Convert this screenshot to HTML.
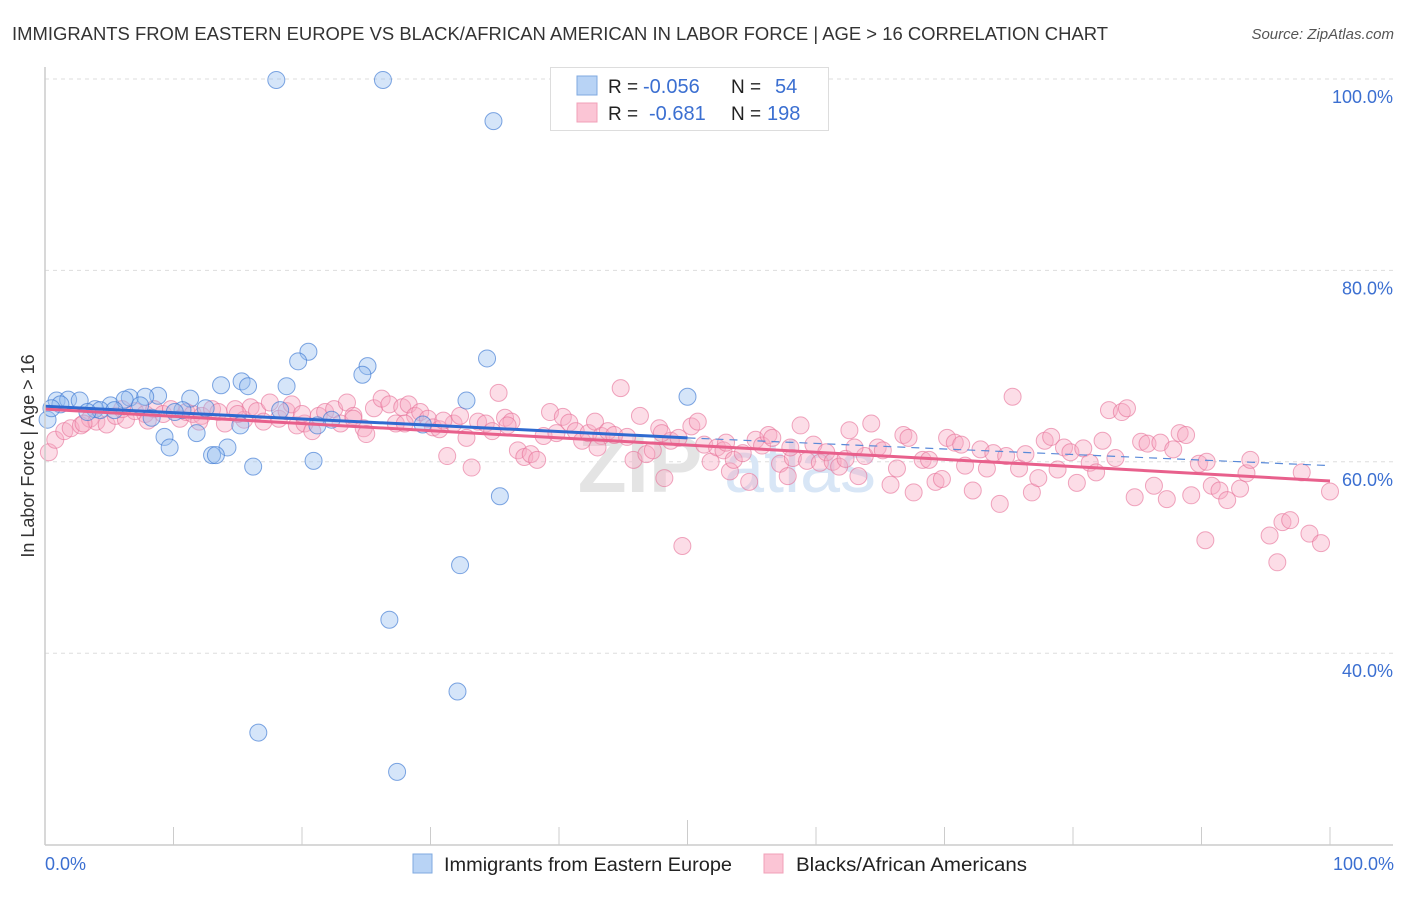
<!DOCTYPE html>
<html><head><meta charset="utf-8"><style>
body{margin:0;background:#fff;font-family:"Liberation Sans",sans-serif}
svg text{font-family:"Liberation Sans",sans-serif}
</style></head><body>
<svg width="1406" height="892" viewBox="0 0 1406 892" xmlns="http://www.w3.org/2000/svg">
<text x="12" y="40" font-size="18" fill="#333" textLength="1096" lengthAdjust="spacingAndGlyphs">IMMIGRANTS FROM EASTERN EUROPE VS BLACK/AFRICAN AMERICAN IN LABOR FORCE | AGE &gt; 16 CORRELATION CHART</text>
<text x="1394" y="39" font-size="15" fill="#555" font-style="italic" text-anchor="end">Source: ZipAtlas.com</text>
<g id="grid"></g>
<g><text x="640" y="492" font-size="80" fill="#e4e4e4" font-family="Liberation Serif" font-weight="bold" text-anchor="middle">ZIP</text><text x="800" y="492" font-size="72" fill="#d8e6f6" text-anchor="middle">atlas</text></g>
<g id="pink"></g>
<g id="blue"></g>
<g id="trends"></g>
<line x1="45" y1="67" x2="45" y2="845" stroke="#ccc" stroke-width="1.5"/>
<line x1="45" y1="845" x2="1393" y2="845" stroke="#ccc" stroke-width="1.5"/>
<g id="ticks"></g>
<g id="ylabels"></g>
<text transform="translate(34,456) rotate(-90)" font-size="18" fill="#333" text-anchor="middle">In Labor Force | Age &gt; 16</text>
<text x="45" y="870" font-size="18" fill="#3b6fd1">0.0%</text>
<text x="1394" y="870" font-size="18" fill="#3b6fd1" text-anchor="end">100.0%</text>
<g>
<rect x="550.5" y="67.5" width="278" height="63" fill="#fff" stroke="#ddd"/>
<rect x="577" y="76" width="20" height="19" fill="#b8d3f5" stroke="#7fa9e0"/>
<rect x="577" y="103" width="20" height="19" fill="#fbc5d5" stroke="#f2a0b8"/>
<text x="608" y="93" font-size="19" fill="#222">R =</text>
<text x="643" y="93" font-size="20" fill="#3b6fd1">-0.056</text>
<text x="731" y="93" font-size="19" fill="#222">N =</text>
<text x="775" y="93" font-size="20" fill="#3b6fd1">54</text>
<text x="608" y="120" font-size="19" fill="#222">R =</text>
<text x="649" y="120" font-size="20" fill="#3b6fd1">-0.681</text>
<text x="731" y="120" font-size="19" fill="#222">N =</text>
<text x="767" y="120" font-size="20" fill="#3b6fd1">198</text>
</g>
<g>
<rect x="413" y="854" width="19" height="19" fill="#b8d3f5" stroke="#7fa9e0"/>
<text x="444" y="871" font-size="19" fill="#222" textLength="288" lengthAdjust="spacingAndGlyphs">Immigrants from Eastern Europe</text>
<rect x="764" y="854" width="19" height="19" fill="#fbc5d5" stroke="#f2a0b8"/>
<text x="796" y="871" font-size="19" fill="#222" textLength="231" lengthAdjust="spacingAndGlyphs">Blacks/African Americans</text>
</g>
</svg>
<script>
const blueX=[18.0,26.3,34.9,20.5,19.7,34.4,25.1,24.7,13.7,15.3,15.8,18.8,8.8,50.0,32.8,0.9,1.8,2.7,1.2,6.6,7.8,5.1,6.2,3.9,11.3,12.5,18.3,10.7,8.3,22.3,21.2,29.4,9.3,11.8,9.7,14.2,13.0,13.3,20.9,16.2,35.4,32.3,26.8,32.1,16.6,27.4,0.2,0.5,4.3,7.4,5.4,10.1,3.3,15.2];
const blueY=[99.9,99.9,95.6,71.5,70.5,70.8,70.0,69.1,68.0,68.4,67.9,67.9,66.9,66.8,66.4,66.4,66.5,66.4,66.0,66.7,66.8,65.9,66.5,65.5,66.6,65.6,65.4,65.4,64.6,64.4,63.8,63.9,62.6,63.0,61.5,61.5,60.7,60.7,60.1,59.5,56.4,49.2,43.5,36.0,31.7,27.6,64.4,65.6,65.4,65.9,65.4,65.2,65.2,63.8];
const pinkX=[0.3,0.8,1.5,2,2.8,3.5,4,4.8,5.5,6.3,7,7.8,8.5,9.2,9.8,10.5,
11,11.5,12.2,13,13.5,14,14.8,15.5,16,16.5,17,17.5,18.2,18.8,19.2,19.6,20.2,20.8,
21.3,21.8,22.5,23,23.5,24,24.8,25,25.6,26.2,26.8,27.3,27.8,28.3,28.8,29.2,29.8,
30.2,30.7,31.3,31.8,32.3,32.8,33.2,33.7,34.3,34.8,35.3,35.8,36.3,36.8,37.3,37.8,38.3,38.8,39.3,39.8,
40.3,40.8,41.3,41.8,42.3,42.8,43.3,43.8,44.3,44.8,45.3,45.8,46.3,46.8,47.3,47.8,48.2,48.7,49.3,49.6,
50.3,50.8,51.3,51.8,52.3,52.8,53.3,53.6,54.3,54.8,55.3,55.8,56.3,56.6,57.2,57.8,58.2,58.8,59.3,59.8,
60.3,60.8,61.3,61.8,62.3,62.6,63.3,63.8,64.3,64.8,65.2,65.8,66.3,66.8,67.2,67.6,68.3,68.8,69.3,69.8,
70.2,70.8,71.3,71.6,72.2,72.8,73.3,73.8,74.3,74.8,75.3,75.8,76.3,76.8,77.3,77.8,78.3,78.8,79.3,79.8,
80.3,80.8,81.3,81.8,82.3,82.8,83.3,83.8,84.2,84.8,85.3,85.8,86.3,86.8,87.3,87.8,88.3,88.8,89.2,89.8,
90.3,90.4,90.8,91.4,92,93,93.5,93.8,95.3,95.9,96.3,96.9,97.8,98.4,99.3,100,
3,6,8,12,15,20,24,28,31,36,43,48,53,58,63];
const pinkY=[61.0,62.3,63.2,63.5,63.8,64.5,64.2,63.9,64.8,64.4,65.3,65.0,65.5,65.0,65.5,64.5,
65.2,65.0,64.8,65.5,65.2,64.0,65.5,64.4,65.7,65.3,64.2,66.2,64.5,65.3,66.0,63.8,64.0,63.2,
64.8,65.2,65.5,64.0,66.2,64.8,63.5,62.9,65.6,66.6,66.0,64.0,65.7,66.0,64.8,65.2,64.5,
63.6,63.4,60.6,64.0,64.8,62.5,59.4,64.2,64.0,63.2,67.2,64.6,64.2,61.2,60.5,60.8,60.2,62.7,65.2,63.0,
64.7,64.1,63.2,62.2,63.0,64.2,62.7,63.2,62.8,67.7,62.6,60.2,64.8,60.8,61.2,63.5,58.3,62.2,62.5,51.2,
63.7,64.2,61.8,60.0,61.5,61.2,59.0,60.2,60.9,57.9,62.3,61.7,62.8,62.5,59.8,58.5,60.4,63.8,60.1,61.8,
59.9,61.0,60.0,59.5,60.3,63.3,58.5,60.6,64.0,61.5,61.2,57.6,59.3,62.8,62.5,56.8,60.2,60.2,57.9,58.2,
62.5,62.0,61.8,59.6,57.0,61.3,59.3,60.9,55.6,60.6,66.8,59.3,60.8,56.8,58.3,62.2,62.6,59.2,61.5,61.0,
57.8,61.4,59.9,58.9,62.2,65.4,60.4,65.2,65.6,56.3,62.1,61.9,57.5,62.0,56.1,61.3,63.0,62.8,56.5,59.8,
51.8,60.0,57.5,57.0,56.0,57.2,58.8,60.2,52.3,49.5,53.7,53.9,58.9,52.5,51.5,56.9,
64.0,65.5,64.3,64.2,65.0,65.0,64.5,64.0,64.3,63.8,61.5,63.0,62.0,61.5,61.5];
const yTicks=[100,80,60,40];
const yTickLabels=["100.0%","80.0%","60.0%","40.0%"];
const xTicks=[0,10,20,30,40,50,60,70,80,90,100];
const blueTrend=[65.8,62.5,59.6]; // at x=0, 50, 100
const pinkTrend=[65.5,58.0];      // at x=0, 100
const NS="http://www.w3.org/2000/svg";
const sx=v=>45+v*12.85, sy=v=>1036-v*9.57;
function mk(tag,attrs,parent){const e=document.createElementNS(NS,tag);for(const k in attrs)e.setAttribute(k,attrs[k]);document.getElementById(parent).appendChild(e);return e;}
yTicks.forEach((t,i)=>{
  const g=mk('line',{x1:45,x2:1393,y1:sy(t),y2:sy(t),stroke:'#ddd','stroke-dasharray':'4,4'},'grid');
  
  
  const l=mk('text',{x:1393,y:sy(t)+24,'font-size':18,fill:'#3b6fd1','text-anchor':'end'},'ylabels');
  l.textContent=yTickLabels[i];
  
  
});
xTicks.forEach(t=>{
  const l=mk('line',{x1:sx(t),x2:sx(t),y1:t===50?820:827,y2:845,stroke:'#ccc'},'ticks');
  
  
});
pinkX.forEach((x,i)=>{
  const c=mk('circle',{cx:sx(x),cy:sy(pinkY[i]),r:8.5,fill:'rgba(248,170,195,0.4)',stroke:'rgba(230,110,150,0.6)','stroke-width':1},'pink');
  
  
});
blueX.forEach((x,i)=>{
  const c=mk('circle',{cx:sx(x),cy:sy(blueY[i]),r:8.5,fill:'rgba(150,190,240,0.4)',stroke:'rgba(60,120,210,0.65)','stroke-width':1},'blue');
  
  
});
let t1=mk('line',{x1:sx(0),y1:sy(blueTrend[0]),x2:sx(50),y2:sy(blueTrend[1]),stroke:'#2f6ad0','stroke-width':3},'trends');


let t2=mk('line',{x1:sx(50),y1:sy(blueTrend[1]),x2:sx(100),y2:sy(blueTrend[2]),stroke:'#5a8ad8','stroke-width':1.2,'stroke-dasharray':'8,6'},'trends');


let t3=mk('line',{x1:sx(0),y1:sy(pinkTrend[0]),x2:sx(100),y2:sy(pinkTrend[1]),stroke:'#e8608c','stroke-width':3},'trends');


</script>
</body></html>
